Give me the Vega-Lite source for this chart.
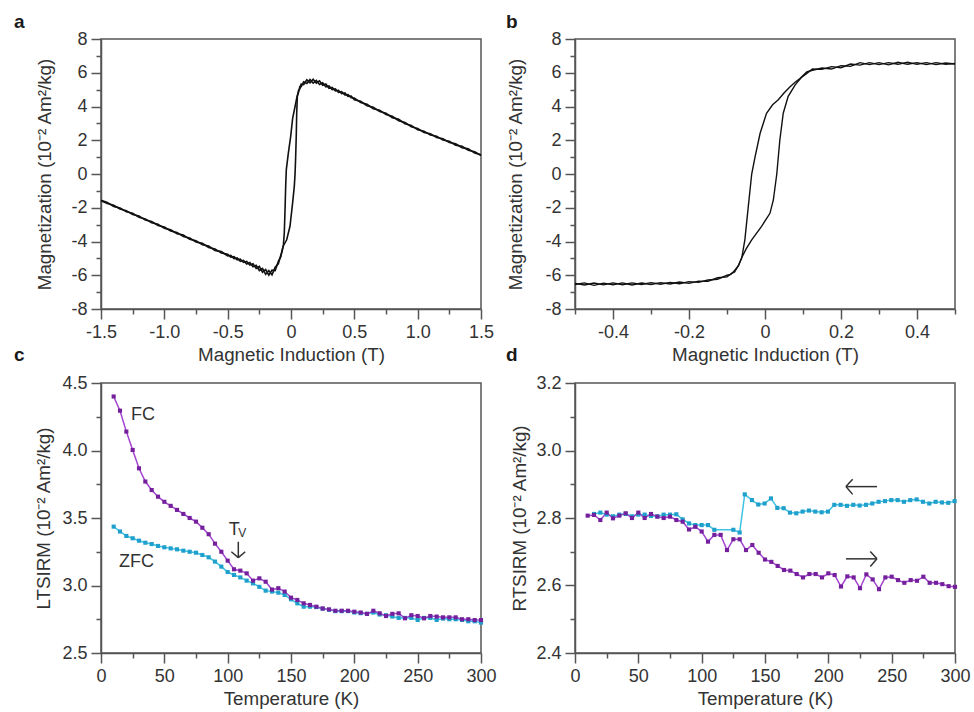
{
  "$schema": "https://vega.github.io/schema/vega-lite/v6.json",
  "background": "white",
  "padding": {"left": 13, "top": 11, "right": 0, "bottom": 0},
  "autosize": {"type": "pad"},
  "config": {
    "font": "Liberation Sans",
    "view": {"stroke": "#555555", "strokeWidth": 1.5},
    "axis": {
      "grid": false, "labelFontSize": 18, "titleFontSize": 18.8, "labelColor": "#333333", "titleColor": "#333333",
      "titleFontWeight": "normal", "domainColor": "#555555", "tickColor": "#555555", "domainWidth": 1.5, "tickWidth": 1.5,
      "labelFlush": false, "labelOverlap": false, "labelPadding": 4, "titlePadding": 4, "tickSize": 10, "labelFont": "Liberation Sans", "titleFont": "Liberation Sans"
    },
    "title": {"anchor": "start", "frame": "group", "fontSize": 19, "fontWeight": "bold", "font": "Liberation Sans", "color": "#1a1a1a", "baseline": "alphabetic"}
  },
  "datasets": {
    "a": [
      {"s":"d","x":-1.5,"y":-1.55},{"s":"d","x":-1.45,"y":-1.68},{"s":"d","x":-1.4,"y":-1.92},{"s":"d","x":-1.35,"y":-2.01},{"s":"d","x":-1.3,"y":-2.24},{"s":"d","x":-1.25,"y":-2.33},{"s":"d","x":-1.2,"y":-2.57},{"s":"d","x":-1.15,"y":-2.66},{"s":"d","x":-1.1,"y":-2.89},{"s":"d","x":-1.05,"y":-2.98},{"s":"d","x":-1.0,"y":-3.22},{"s":"d","x":-0.95,"y":-3.31},{"s":"d","x":-0.9,"y":-3.54},{"s":"d","x":-0.85,"y":-3.62},{"s":"d","x":-0.8,"y":-3.87},{"s":"d","x":-0.75,"y":-3.95},{"s":"d","x":-0.7,"y":-4.19},{"s":"d","x":-0.65,"y":-4.27},{"s":"d","x":-0.6,"y":-4.53},{"s":"d","x":-0.55,"y":-4.6},{"s":"d","x":-0.5,"y":-4.86},{"s":"d","x":-0.475,"y":-4.82},{"s":"d","x":-0.45,"y":-5.02},{"s":"d","x":-0.425,"y":-4.97},{"s":"d","x":-0.4,"y":-5.17},{"s":"d","x":-0.375,"y":-5.12},{"s":"d","x":-0.35,"y":-5.33},{"s":"d","x":-0.325,"y":-5.25},{"s":"d","x":-0.3,"y":-5.5},{"s":"d","x":-0.275,"y":-5.41},{"s":"d","x":-0.25,"y":-5.72},{"s":"d","x":-0.225,"y":-5.6},{"s":"d","x":-0.2,"y":-5.95},{"s":"d","x":-0.175,"y":-5.72},{"s":"d","x":-0.15,"y":-5.98},{"s":"d","x":-0.125,"y":-5.52},{"s":"d","x":-0.1,"y":-5.32},{"s":"d","x":-0.08,"y":-4.8},{"s":"d","x":-0.07,"y":-4.58},{"s":"d","x":-0.06,"y":-4.2},{"s":"d","x":-0.053,"y":-3.5},{"s":"d","x":-0.047,"y":-2.1},{"s":"d","x":-0.042,"y":-0.73},{"s":"d","x":-0.037,"y":0.26},{"s":"d","x":-0.021,"y":1.24},{"s":"d","x":-0.003,"y":2.2},{"s":"d","x":0.013,"y":3.3},{"s":"d","x":0.032,"y":4.0},{"s":"d","x":0.045,"y":4.5},{"s":"d","x":0.06,"y":4.95},{"s":"d","x":0.07,"y":5.05},{"s":"d","x":0.08,"y":5.32},{"s":"d","x":0.1,"y":5.3},{"s":"d","x":0.125,"y":5.58},{"s":"d","x":0.15,"y":5.4},{"s":"d","x":0.175,"y":5.62},{"s":"d","x":0.2,"y":5.38},{"s":"d","x":0.225,"y":5.52},{"s":"d","x":0.25,"y":5.26},{"s":"d","x":0.275,"y":5.33},{"s":"d","x":0.3,"y":5.08},{"s":"d","x":0.325,"y":5.13},{"s":"d","x":0.35,"y":4.92},{"s":"d","x":0.375,"y":4.96},{"s":"d","x":0.4,"y":4.76},{"s":"d","x":0.425,"y":4.8},{"s":"d","x":0.45,"y":4.6},{"s":"d","x":0.475,"y":4.62},{"s":"d","x":0.5,"y":4.4},{"s":"d","x":0.55,"y":4.31},{"s":"d","x":0.6,"y":4.05},{"s":"d","x":0.65,"y":3.95},{"s":"d","x":0.7,"y":3.7},{"s":"d","x":0.75,"y":3.6},{"s":"d","x":0.8,"y":3.34},{"s":"d","x":0.85,"y":3.24},{"s":"d","x":0.9,"y":2.98},{"s":"d","x":0.95,"y":2.88},{"s":"d","x":1.0,"y":2.62},{"s":"d","x":1.05,"y":2.54},{"s":"d","x":1.1,"y":2.31},{"s":"d","x":1.15,"y":2.24},{"s":"d","x":1.2,"y":2.01},{"s":"d","x":1.25,"y":1.94},{"s":"d","x":1.3,"y":1.71},{"s":"d","x":1.35,"y":1.64},{"s":"d","x":1.4,"y":1.41},{"s":"d","x":1.45,"y":1.32},{"s":"d","x":1.5,"y":1.1},
      {"s":"u","x":-1.5,"y":-1.58},{"s":"u","x":-1.45,"y":-1.75},{"s":"u","x":-1.4,"y":-1.85},{"s":"u","x":-1.35,"y":-2.07},{"s":"u","x":-1.3,"y":-2.17},{"s":"u","x":-1.25,"y":-2.4},{"s":"u","x":-1.2,"y":-2.49},{"s":"u","x":-1.15,"y":-2.73},{"s":"u","x":-1.1,"y":-2.81},{"s":"u","x":-1.05,"y":-3.05},{"s":"u","x":-1.0,"y":-3.14},{"s":"u","x":-0.95,"y":-3.38},{"s":"u","x":-0.9,"y":-3.46},{"s":"u","x":-0.85,"y":-3.7},{"s":"u","x":-0.8,"y":-3.79},{"s":"u","x":-0.75,"y":-4.03},{"s":"u","x":-0.7,"y":-4.11},{"s":"u","x":-0.65,"y":-4.35},{"s":"u","x":-0.6,"y":-4.44},{"s":"u","x":-0.55,"y":-4.68},{"s":"u","x":-0.5,"y":-4.76},{"s":"u","x":-0.475,"y":-4.93},{"s":"u","x":-0.45,"y":-4.9},{"s":"u","x":-0.425,"y":-5.09},{"s":"u","x":-0.4,"y":-5.04},{"s":"u","x":-0.375,"y":-5.24},{"s":"u","x":-0.35,"y":-5.18},{"s":"u","x":-0.325,"y":-5.4},{"s":"u","x":-0.3,"y":-5.32},{"s":"u","x":-0.275,"y":-5.6},{"s":"u","x":-0.25,"y":-5.48},{"s":"u","x":-0.225,"y":-5.82},{"s":"u","x":-0.2,"y":-5.66},{"s":"u","x":-0.175,"y":-6.0},{"s":"u","x":-0.15,"y":-5.7},{"s":"u","x":-0.125,"y":-5.72},{"s":"u","x":-0.1,"y":-5.18},{"s":"u","x":-0.08,"y":-4.9},{"s":"u","x":-0.07,"y":-4.5},{"s":"u","x":-0.06,"y":-4.25},{"s":"u","x":-0.034,"y":-3.9},{"s":"u","x":-0.008,"y":-3.1},{"s":"u","x":0.013,"y":-1.7},{"s":"u","x":0.026,"y":-0.73},{"s":"u","x":0.032,"y":0.0},{"s":"u","x":0.037,"y":1.05},{"s":"u","x":0.042,"y":2.4},{"s":"u","x":0.045,"y":3.6},{"s":"u","x":0.05,"y":4.6},{"s":"u","x":0.06,"y":4.85},{"s":"u","x":0.07,"y":5.18},{"s":"u","x":0.08,"y":5.18},{"s":"u","x":0.1,"y":5.46},{"s":"u","x":0.125,"y":5.36},{"s":"u","x":0.15,"y":5.6},{"s":"u","x":0.175,"y":5.38},{"s":"u","x":0.2,"y":5.55},{"s":"u","x":0.225,"y":5.3},{"s":"u","x":0.25,"y":5.4},{"s":"u","x":0.275,"y":5.17},{"s":"u","x":0.3,"y":5.22},{"s":"u","x":0.325,"y":5.0},{"s":"u","x":0.35,"y":5.04},{"s":"u","x":0.375,"y":4.84},{"s":"u","x":0.4,"y":4.88},{"s":"u","x":0.425,"y":4.68},{"s":"u","x":0.45,"y":4.7},{"s":"u","x":0.475,"y":4.52},{"s":"u","x":0.5,"y":4.5},{"s":"u","x":0.55,"y":4.23},{"s":"u","x":0.6,"y":4.13},{"s":"u","x":0.65,"y":3.87},{"s":"u","x":0.7,"y":3.78},{"s":"u","x":0.75,"y":3.52},{"s":"u","x":0.8,"y":3.42},{"s":"u","x":0.85,"y":3.16},{"s":"u","x":0.9,"y":3.06},{"s":"u","x":0.95,"y":2.8},{"s":"u","x":1.0,"y":2.7},{"s":"u","x":1.05,"y":2.46},{"s":"u","x":1.1,"y":2.39},{"s":"u","x":1.15,"y":2.16},{"s":"u","x":1.2,"y":2.09},{"s":"u","x":1.25,"y":1.86},{"s":"u","x":1.3,"y":1.79},{"s":"u","x":1.35,"y":1.56},{"s":"u","x":1.4,"y":1.49},{"s":"u","x":1.45,"y":1.24},{"s":"u","x":1.5,"y":1.14}
    ],
    "b": [
      {"s":"d","x":-0.5,"y":-6.55},{"s":"d","x":-0.475,"y":-6.45},{"s":"d","x":-0.45,"y":-6.6},{"s":"d","x":-0.425,"y":-6.47},{"s":"d","x":-0.4,"y":-6.56},{"s":"d","x":-0.375,"y":-6.45},{"s":"d","x":-0.35,"y":-6.58},{"s":"d","x":-0.325,"y":-6.46},{"s":"d","x":-0.3,"y":-6.55},{"s":"d","x":-0.275,"y":-6.44},{"s":"d","x":-0.25,"y":-6.52},{"s":"d","x":-0.225,"y":-6.4},{"s":"d","x":-0.2,"y":-6.48},{"s":"d","x":-0.175,"y":-6.35},{"s":"d","x":-0.15,"y":-6.36},{"s":"d","x":-0.125,"y":-6.15},{"s":"d","x":-0.1,"y":-6.1},{"s":"d","x":-0.09,"y":-5.92},{"s":"d","x":-0.08,"y":-5.8},{"s":"d","x":-0.07,"y":-5.42},{"s":"d","x":-0.061,"y":-4.95},{"s":"d","x":-0.053,"y":-3.9},{"s":"d","x":-0.044,"y":-1.93},{"s":"d","x":-0.035,"y":0.0},{"s":"d","x":-0.026,"y":1.03},{"s":"d","x":-0.013,"y":2.4},{"s":"d","x":0.004,"y":3.6},{"s":"d","x":0.02,"y":4.1},{"s":"d","x":0.035,"y":4.4},{"s":"d","x":0.05,"y":4.8},{"s":"d","x":0.066,"y":5.17},{"s":"d","x":0.08,"y":5.45},{"s":"d","x":0.092,"y":5.66},{"s":"d","x":0.11,"y":6.05},{"s":"d","x":0.125,"y":6.15},{"s":"d","x":0.15,"y":6.28},{"s":"d","x":0.175,"y":6.22},{"s":"d","x":0.2,"y":6.42},{"s":"d","x":0.225,"y":6.38},{"s":"d","x":0.25,"y":6.6},{"s":"d","x":0.275,"y":6.48},{"s":"d","x":0.3,"y":6.6},{"s":"d","x":0.325,"y":6.47},{"s":"d","x":0.35,"y":6.62},{"s":"d","x":0.375,"y":6.5},{"s":"d","x":0.4,"y":6.6},{"s":"d","x":0.425,"y":6.48},{"s":"d","x":0.45,"y":6.6},{"s":"d","x":0.475,"y":6.5},{"s":"d","x":0.5,"y":6.55},
      {"s":"u","x":-0.5,"y":-6.48},{"s":"u","x":-0.475,"y":-6.58},{"s":"u","x":-0.45,"y":-6.46},{"s":"u","x":-0.425,"y":-6.57},{"s":"u","x":-0.4,"y":-6.45},{"s":"u","x":-0.375,"y":-6.56},{"s":"u","x":-0.35,"y":-6.45},{"s":"u","x":-0.325,"y":-6.55},{"s":"u","x":-0.3,"y":-6.44},{"s":"u","x":-0.275,"y":-6.53},{"s":"u","x":-0.25,"y":-6.42},{"s":"u","x":-0.225,"y":-6.5},{"s":"u","x":-0.2,"y":-6.38},{"s":"u","x":-0.175,"y":-6.42},{"s":"u","x":-0.15,"y":-6.28},{"s":"u","x":-0.125,"y":-6.24},{"s":"u","x":-0.1,"y":-6.0},{"s":"u","x":-0.09,"y":-5.95},{"s":"u","x":-0.08,"y":-5.72},{"s":"u","x":-0.07,"y":-5.45},{"s":"u","x":-0.061,"y":-4.95},{"s":"u","x":-0.05,"y":-4.45},{"s":"u","x":-0.035,"y":-3.9},{"s":"u","x":-0.009,"y":-3.1},{"s":"u","x":0.013,"y":-2.33},{"s":"u","x":0.022,"y":-1.54},{"s":"u","x":0.031,"y":0.0},{"s":"u","x":0.039,"y":2.0},{"s":"u","x":0.048,"y":3.6},{"s":"u","x":0.061,"y":4.6},{"s":"u","x":0.079,"y":5.27},{"s":"u","x":0.095,"y":5.7},{"s":"u","x":0.11,"y":5.96},{"s":"u","x":0.125,"y":6.22},{"s":"u","x":0.15,"y":6.2},{"s":"u","x":0.175,"y":6.36},{"s":"u","x":0.2,"y":6.3},{"s":"u","x":0.225,"y":6.52},{"s":"u","x":0.25,"y":6.45},{"s":"u","x":0.275,"y":6.6},{"s":"u","x":0.3,"y":6.48},{"s":"u","x":0.325,"y":6.6},{"s":"u","x":0.35,"y":6.5},{"s":"u","x":0.375,"y":6.62},{"s":"u","x":0.4,"y":6.5},{"s":"u","x":0.425,"y":6.6},{"s":"u","x":0.45,"y":6.48},{"s":"u","x":0.475,"y":6.58},{"s":"u","x":0.5,"y":6.52}
    ],
    "c": [
      {"s":"ZFC","T":10,"v":3.436},{"s":"ZFC","T":15,"v":3.4},{"s":"ZFC","T":20,"v":3.367},{"s":"ZFC","T":25,"v":3.35},{"s":"ZFC","T":30,"v":3.332},{"s":"ZFC","T":35,"v":3.317},{"s":"ZFC","T":40,"v":3.307},{"s":"ZFC","T":45,"v":3.293},{"s":"ZFC","T":50,"v":3.283},{"s":"ZFC","T":55,"v":3.275},{"s":"ZFC","T":60,"v":3.268},{"s":"ZFC","T":65,"v":3.258},{"s":"ZFC","T":70,"v":3.25},{"s":"ZFC","T":75,"v":3.243},{"s":"ZFC","T":80,"v":3.226},{"s":"ZFC","T":85,"v":3.209},{"s":"ZFC","T":90,"v":3.177},{"s":"ZFC","T":95,"v":3.14},{"s":"ZFC","T":100,"v":3.1},{"s":"ZFC","T":105,"v":3.078},{"s":"ZFC","T":110,"v":3.06},{"s":"ZFC","T":115,"v":3.036},{"s":"ZFC","T":120,"v":3.016},{"s":"ZFC","T":125,"v":2.99},{"s":"ZFC","T":130,"v":2.962},{"s":"ZFC","T":135,"v":2.955},{"s":"ZFC","T":140,"v":2.947},{"s":"ZFC","T":145,"v":2.93},{"s":"ZFC","T":150,"v":2.898},{"s":"ZFC","T":155,"v":2.868},{"s":"ZFC","T":160,"v":2.843},{"s":"ZFC","T":165,"v":2.843},{"s":"ZFC","T":170,"v":2.84},{"s":"ZFC","T":175,"v":2.828},{"s":"ZFC","T":180,"v":2.82},{"s":"ZFC","T":185,"v":2.81},{"s":"ZFC","T":190,"v":2.81},{"s":"ZFC","T":195,"v":2.81},{"s":"ZFC","T":200,"v":2.8},{"s":"ZFC","T":205,"v":2.795},{"s":"ZFC","T":210,"v":2.79},{"s":"ZFC","T":215,"v":2.8},{"s":"ZFC","T":220,"v":2.785},{"s":"ZFC","T":225,"v":2.78},{"s":"ZFC","T":230,"v":2.77},{"s":"ZFC","T":235,"v":2.76},{"s":"ZFC","T":240,"v":2.76},{"s":"ZFC","T":245,"v":2.76},{"s":"ZFC","T":250,"v":2.745},{"s":"ZFC","T":255,"v":2.76},{"s":"ZFC","T":260,"v":2.76},{"s":"ZFC","T":265,"v":2.745},{"s":"ZFC","T":270,"v":2.755},{"s":"ZFC","T":275,"v":2.75},{"s":"ZFC","T":280,"v":2.75},{"s":"ZFC","T":285,"v":2.745},{"s":"ZFC","T":290,"v":2.735},{"s":"ZFC","T":295,"v":2.735},{"s":"ZFC","T":300,"v":2.725},
      {"s":"FC","T":10,"v":4.4},{"s":"FC","T":15,"v":4.295},{"s":"FC","T":20,"v":4.14},{"s":"FC","T":25,"v":4.004},{"s":"FC","T":30,"v":3.868},{"s":"FC","T":35,"v":3.77},{"s":"FC","T":40,"v":3.707},{"s":"FC","T":45,"v":3.658},{"s":"FC","T":50,"v":3.62},{"s":"FC","T":55,"v":3.59},{"s":"FC","T":60,"v":3.56},{"s":"FC","T":65,"v":3.53},{"s":"FC","T":70,"v":3.5},{"s":"FC","T":75,"v":3.473},{"s":"FC","T":80,"v":3.428},{"s":"FC","T":85,"v":3.38},{"s":"FC","T":90,"v":3.31},{"s":"FC","T":95,"v":3.25},{"s":"FC","T":100,"v":3.184},{"s":"FC","T":105,"v":3.12},{"s":"FC","T":110,"v":3.11},{"s":"FC","T":115,"v":3.09},{"s":"FC","T":120,"v":3.036},{"s":"FC","T":125,"v":3.053},{"s":"FC","T":130,"v":3.028},{"s":"FC","T":135,"v":2.97},{"s":"FC","T":140,"v":2.98},{"s":"FC","T":145,"v":2.955},{"s":"FC","T":150,"v":2.91},{"s":"FC","T":155,"v":2.893},{"s":"FC","T":160,"v":2.868},{"s":"FC","T":165,"v":2.856},{"s":"FC","T":170,"v":2.843},{"s":"FC","T":175,"v":2.83},{"s":"FC","T":180,"v":2.823},{"s":"FC","T":185,"v":2.813},{"s":"FC","T":190,"v":2.813},{"s":"FC","T":195,"v":2.813},{"s":"FC","T":200,"v":2.806},{"s":"FC","T":205,"v":2.8},{"s":"FC","T":210,"v":2.79},{"s":"FC","T":215,"v":2.813},{"s":"FC","T":220,"v":2.794},{"s":"FC","T":225,"v":2.774},{"s":"FC","T":230,"v":2.79},{"s":"FC","T":235,"v":2.794},{"s":"FC","T":240,"v":2.757},{"s":"FC","T":245,"v":2.78},{"s":"FC","T":250,"v":2.774},{"s":"FC","T":255,"v":2.757},{"s":"FC","T":260,"v":2.774},{"s":"FC","T":265,"v":2.77},{"s":"FC","T":270,"v":2.764},{"s":"FC","T":275,"v":2.764},{"s":"FC","T":280,"v":2.764},{"s":"FC","T":285,"v":2.75},{"s":"FC","T":290,"v":2.75},{"s":"FC","T":295,"v":2.744},{"s":"FC","T":300,"v":2.744}
    ],
    "d": [
      {"s":"C","T":15,"v":2.812},{"s":"C","T":20,"v":2.816},{"s":"C","T":25,"v":2.81},{"s":"C","T":30,"v":2.805},{"s":"C","T":35,"v":2.81},{"s":"C","T":40,"v":2.812},{"s":"C","T":45,"v":2.805},{"s":"C","T":50,"v":2.81},{"s":"C","T":55,"v":2.81},{"s":"C","T":60,"v":2.806},{"s":"C","T":65,"v":2.805},{"s":"C","T":70,"v":2.81},{"s":"C","T":75,"v":2.81},{"s":"C","T":80,"v":2.811},{"s":"C","T":85,"v":2.796},{"s":"C","T":90,"v":2.784},{"s":"C","T":95,"v":2.779},{"s":"C","T":100,"v":2.779},{"s":"C","T":105,"v":2.779},{"s":"C","T":110,"v":2.765},{"s":"C","T":125,"v":2.765},{"s":"C","T":130,"v":2.757},{"s":"C","T":134,"v":2.87},{"s":"C","T":139.7,"v":2.853},{"s":"C","T":144.7,"v":2.84},{"s":"C","T":149.7,"v":2.843},{"s":"C","T":154.7,"v":2.858},{"s":"C","T":159.7,"v":2.83},{"s":"C","T":164.7,"v":2.829},{"s":"C","T":169.7,"v":2.816},{"s":"C","T":174.7,"v":2.814},{"s":"C","T":179.7,"v":2.819},{"s":"C","T":184.7,"v":2.822},{"s":"C","T":189.7,"v":2.819},{"s":"C","T":194.7,"v":2.817},{"s":"C","T":199.7,"v":2.819},{"s":"C","T":204.7,"v":2.839},{"s":"C","T":209.7,"v":2.839},{"s":"C","T":214.7,"v":2.836},{"s":"C","T":219.7,"v":2.839},{"s":"C","T":224.7,"v":2.837},{"s":"C","T":229.7,"v":2.839},{"s":"C","T":234.7,"v":2.843},{"s":"C","T":239.7,"v":2.848},{"s":"C","T":244.7,"v":2.85},{"s":"C","T":249.7,"v":2.853},{"s":"C","T":254.7,"v":2.853},{"s":"C","T":259.7,"v":2.848},{"s":"C","T":264.7,"v":2.853},{"s":"C","T":269.7,"v":2.855},{"s":"C","T":274.7,"v":2.848},{"s":"C","T":279.7,"v":2.843},{"s":"C","T":284.7,"v":2.848},{"s":"C","T":289.7,"v":2.846},{"s":"C","T":294.7,"v":2.845},{"s":"C","T":299.7,"v":2.85},
      {"s":"W","T":10,"v":2.807},{"s":"W","T":15,"v":2.809},{"s":"W","T":20,"v":2.794},{"s":"W","T":25,"v":2.816},{"s":"W","T":30,"v":2.799},{"s":"W","T":35,"v":2.807},{"s":"W","T":40,"v":2.814},{"s":"W","T":45,"v":2.8},{"s":"W","T":50,"v":2.816},{"s":"W","T":55,"v":2.8},{"s":"W","T":60,"v":2.812},{"s":"W","T":65,"v":2.804},{"s":"W","T":70,"v":2.8},{"s":"W","T":75,"v":2.804},{"s":"W","T":80,"v":2.794},{"s":"W","T":85,"v":2.789},{"s":"W","T":90,"v":2.766},{"s":"W","T":95,"v":2.774},{"s":"W","T":100,"v":2.76},{"s":"W","T":105,"v":2.73},{"s":"W","T":110,"v":2.75},{"s":"W","T":115,"v":2.75},{"s":"W","T":120,"v":2.705},{"s":"W","T":125,"v":2.737},{"s":"W","T":130,"v":2.737},{"s":"W","T":135,"v":2.705},{"s":"W","T":140,"v":2.72},{"s":"W","T":145,"v":2.697},{"s":"W","T":150,"v":2.677},{"s":"W","T":155,"v":2.67},{"s":"W","T":160,"v":2.658},{"s":"W","T":165,"v":2.646},{"s":"W","T":170,"v":2.644},{"s":"W","T":175,"v":2.634},{"s":"W","T":180,"v":2.624},{"s":"W","T":185,"v":2.634},{"s":"W","T":190,"v":2.634},{"s":"W","T":195,"v":2.624},{"s":"W","T":200,"v":2.636},{"s":"W","T":205,"v":2.631},{"s":"W","T":210,"v":2.597},{"s":"W","T":215,"v":2.627},{"s":"W","T":220,"v":2.624},{"s":"W","T":225,"v":2.592},{"s":"W","T":230,"v":2.633},{"s":"W","T":235,"v":2.618},{"s":"W","T":240,"v":2.589},{"s":"W","T":245,"v":2.624},{"s":"W","T":250,"v":2.626},{"s":"W","T":255,"v":2.616},{"s":"W","T":260,"v":2.608},{"s":"W","T":265,"v":2.616},{"s":"W","T":270,"v":2.614},{"s":"W","T":275,"v":2.626},{"s":"W","T":280,"v":2.608},{"s":"W","T":285,"v":2.608},{"s":"W","T":290,"v":2.604},{"s":"W","T":295,"v":2.598},{"s":"W","T":300,"v":2.596}
    ],
    "cText": [{"T":23.6,"v":4.226,"t":"FC"},{"T":14.2,"v":3.137,"t":"ZFC"},{"T":100.8,"v":3.374,"t":"T"}],
    "cSub": [{"T":108.3,"v":3.359,"t":"V"}],
    "cArrow": [{"x":108.4,"y":3.324,"x2":108.4,"y2":3.206},{"x":102.9,"y":3.25,"x2":108.4,"y2":3.206},{"x":113.9,"y":3.25,"x2":108.4,"y2":3.206}],
    "dArrow": [{"x":213.9,"y":2.893,"x2":238.4,"y2":2.893},{"x":213.9,"y":2.893,"x2":219.2,"y2":2.915},{"x":213.9,"y":2.893,"x2":219.2,"y2":2.87},{"x":213.9,"y":2.679,"x2":238.4,"y2":2.679},{"x":238.4,"y":2.679,"x2":233.1,"y2":2.701},{"x":238.4,"y":2.679,"x2":233.1,"y2":2.656}]
  },
  "columns": 2,
  "spacing": {"row": 74, "column": 94},
  "bounds": "flush",
  "concat": [
    {
      "width": 380, "height": 270,
      "title": {"text": "a", "dx": -87, "offset": -1.5},
      "resolve": {"axis": {"x": "independent", "y": "independent"}},
      "layer": [
        {"mark": {"type": "rule", "color": "#b0b0b0", "strokeWidth": 1.5},
         "encoding": {"x": {"datum": 0, "type": "quantitative", "axis": {"orient": "bottom", "values": [-1.25,-0.75,-0.25,0.25,0.75,1.25], "tickSize": 5, "labels": false, "domain": false, "title": null}}}},
        {"mark": {"type": "rule", "color": "#b0b0b0", "strokeWidth": 1.5},
         "encoding": {"y": {"datum": 0, "type": "quantitative", "axis": {"orient": "left", "values": [-7,-5,-3,-1,1,3,5,7], "tickSize": 5, "labels": false, "domain": false, "title": null}}}},
        {
          "data": {"name": "a"},
          "mark": {"type": "line", "color": "#111111", "strokeWidth": 1.6},
          "encoding": {
            "detail": {"field": "s", "type": "nominal"},
            "x": {"field": "x", "type": "quantitative", "scale": {"domain": [-1.5, 1.5], "nice": false, "zero": false},
              "axis": {"orient": "bottom", "title": "Magnetic Induction (T)", "values": [-1.5,-1.0,-0.5,0,0.5,1.0,1.5],
                "labelExpr": "datum.value == 0 ? '0' : (datum.value < 0 ? '-' : '') + format(abs(datum.value), '.1f')"}},
            "y": {"field": "y", "type": "quantitative", "scale": {"domain": [-8, 8], "nice": false, "zero": false},
              "axis": {"orient": "left", "title": "Magnetization (10⁻² Am²/kg)", "values": [-8,-6,-4,-2,0,2,4,6,8], "titlePadding": 16,
                "labelExpr": "(datum.value < 0 ? '-' : '') + format(abs(datum.value), 'd')"}}
          }
        }
      ]
    },
    {
      "width": 380, "height": 270,
      "title": {"text": "b", "dx": -69, "offset": -1.5},
      "resolve": {"axis": {"x": "independent", "y": "independent"}},
      "layer": [
        {"mark": {"type": "rule", "color": "#b0b0b0", "strokeWidth": 1.5},
         "encoding": {"x": {"datum": 0, "type": "quantitative", "axis": {"orient": "bottom", "values": [-0.5,-0.3,-0.1,0.1,0.3,0.5], "tickSize": 5, "labels": false, "domain": false, "title": null}}}},
        {"mark": {"type": "rule", "color": "#b0b0b0", "strokeWidth": 1.5},
         "encoding": {"y": {"datum": 0, "type": "quantitative", "axis": {"orient": "left", "values": [-7,-5,-3,-1,1,3,5,7], "tickSize": 5, "labels": false, "domain": false, "title": null}}}},
        {
          "data": {"name": "b"},
          "mark": {"type": "line", "color": "#111111", "strokeWidth": 1.4},
          "encoding": {
            "detail": {"field": "s", "type": "nominal"},
            "x": {"field": "x", "type": "quantitative", "scale": {"domain": [-0.5, 0.5], "nice": false, "zero": false},
              "axis": {"orient": "bottom", "title": "Magnetic Induction (T)", "values": [-0.4,-0.2,0,0.2,0.4],
                "labelExpr": "datum.value == 0 ? '0' : (datum.value < 0 ? '-' : '') + format(abs(datum.value), '.1f')"}},
            "y": {"field": "y", "type": "quantitative", "scale": {"domain": [-8, 8], "nice": false, "zero": false},
              "axis": {"orient": "left", "title": "Magnetization (10⁻² Am²/kg)", "values": [-8,-6,-4,-2,0,2,4,6,8], "titlePadding": 19,
                "labelExpr": "(datum.value < 0 ? '-' : '') + format(abs(datum.value), 'd')"}}
          }
        }
      ]
    },
    {
      "width": 380, "height": 270,
      "title": {"text": "c", "dx": -87, "offset": 9},
      "resolve": {"scale": {"color": "independent"}, "axis": {"x": "independent", "y": "independent"}},
      "layer": [
        {
          "data": {"name": "c"},
          "mark": {"type": "line", "strokeWidth": 1.5},
          "encoding": {
            "color": {"field": "s", "type": "nominal", "scale": {"domain": ["ZFC", "FC"], "range": ["#3ec3e2", "#a445d2"]}, "legend": null},
            "x": {"field": "T", "type": "quantitative", "scale": {"domain": [0, 300], "nice": false},
              "axis": {"orient": "bottom", "title": "Temperature (K)", "values": [0,50,100,150,200,250,300]}},
            "y": {"field": "v", "type": "quantitative", "scale": {"domain": [2.5, 4.5], "nice": false, "zero": false},
              "axis": {"orient": "left", "title": "LTSIRM (10⁻² Am²/kg)", "values": [2.5,3.0,3.5,4.0,4.5], "titlePadding": 8, "format": ".1f"}}
          }
        },
        {
          "data": {"name": "c"},
          "mark": {"type": "point", "shape": "square", "filled": true, "size": 17, "opacity": 1},
          "encoding": {
            "color": {"field": "s", "type": "nominal", "scale": {"domain": ["ZFC", "FC"], "range": ["#1f9fcc", "#74209c"]}, "legend": null},
            "x": {"field": "T", "type": "quantitative", "axis": {"orient": "bottom", "values": [25,75,125,175,225,275], "tickSize": 5, "labels": false, "domain": false, "title": null}},
            "y": {"field": "v", "type": "quantitative", "axis": {"orient": "left", "values": [2.75,3.25,3.75,4.25], "tickSize": 5, "labels": false, "domain": false, "title": null}}
          }
        },
        {
          "data": {"name": "cArrow"},
          "mark": {"type": "rule", "color": "#333333", "strokeWidth": 1.5},
          "encoding": {
            "x": {"field": "x", "type": "quantitative", "axis": null}, "x2": {"field": "x2"},
            "y": {"field": "y", "type": "quantitative", "axis": null}, "y2": {"field": "y2"}
          }
        },
        {
          "data": {"name": "cText"},
          "mark": {"type": "text", "align": "left", "baseline": "alphabetic", "fontSize": 18, "color": "#333333", "font": "Liberation Sans"},
          "encoding": {
            "x": {"field": "T", "type": "quantitative", "axis": null},
            "y": {"field": "v", "type": "quantitative", "axis": null},
            "text": {"field": "t"}
          }
        },
        {
          "data": {"name": "cSub"},
          "mark": {"type": "text", "align": "left", "baseline": "alphabetic", "fontSize": 12, "color": "#333333", "font": "Liberation Sans"},
          "encoding": {
            "x": {"field": "T", "type": "quantitative", "axis": null},
            "y": {"field": "v", "type": "quantitative", "axis": null},
            "text": {"field": "t"}
          }
        }
      ]
    },
    {
      "width": 380, "height": 270,
      "title": {"text": "d", "dx": -69, "offset": 9},
      "resolve": {"scale": {"color": "independent"}, "axis": {"x": "independent", "y": "independent"}},
      "layer": [
        {
          "data": {"name": "d"},
          "mark": {"type": "line", "strokeWidth": 1.5},
          "encoding": {
            "color": {"field": "s", "type": "nominal", "scale": {"domain": ["C", "W"], "range": ["#3ec3e2", "#a445d2"]}, "legend": null},
            "x": {"field": "T", "type": "quantitative", "scale": {"domain": [0, 300], "nice": false},
              "axis": {"orient": "bottom", "title": "Temperature (K)", "values": [0,50,100,150,200,250,300]}},
            "y": {"field": "v", "type": "quantitative", "scale": {"domain": [2.4, 3.2], "nice": false, "zero": false},
              "axis": {"orient": "left", "title": "RTSIRM (10⁻² Am²/kg)", "values": [2.4,2.6,2.8,3.0,3.2], "titlePadding": 6, "format": ".1f"}}
          }
        },
        {
          "data": {"name": "d"},
          "mark": {"type": "point", "shape": "square", "filled": true, "size": 17, "opacity": 1},
          "encoding": {
            "color": {"field": "s", "type": "nominal", "scale": {"domain": ["C", "W"], "range": ["#1f9fcc", "#74209c"]}, "legend": null},
            "x": {"field": "T", "type": "quantitative", "axis": {"orient": "bottom", "values": [25,75,125,175,225,275], "tickSize": 5, "labels": false, "domain": false, "title": null}},
            "y": {"field": "v", "type": "quantitative", "axis": {"orient": "left", "values": [2.5,2.7,2.9,3.1], "tickSize": 5, "labels": false, "domain": false, "title": null}}
          }
        },
        {
          "data": {"name": "dArrow"},
          "mark": {"type": "rule", "color": "#333333", "strokeWidth": 1.5},
          "encoding": {
            "x": {"field": "x", "type": "quantitative", "axis": null}, "x2": {"field": "x2"},
            "y": {"field": "y", "type": "quantitative", "axis": null}, "y2": {"field": "y2"}
          }
        }
      ]
    }
  ]
}
